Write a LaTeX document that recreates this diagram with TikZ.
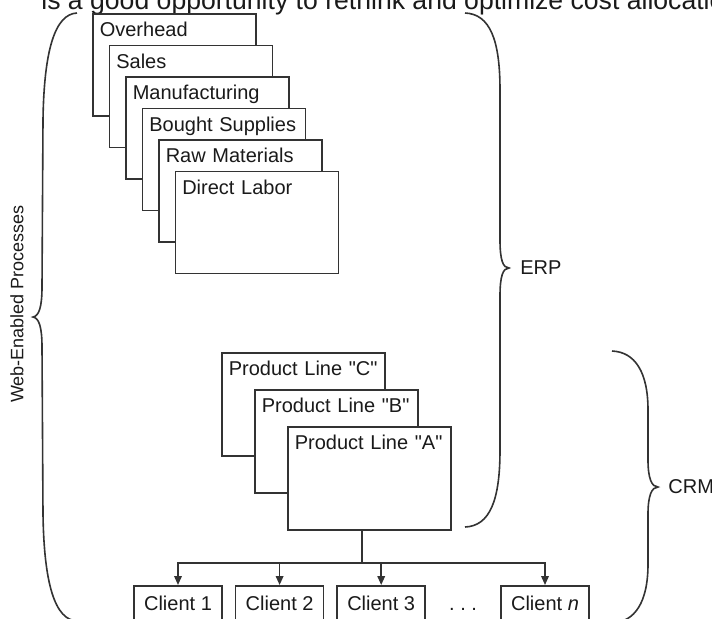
\documentclass[tikz,border=0pt]{standalone}
\usepackage{fontspec}
\setmainfont{Liberation Sans}
\usetikzlibrary{positioning, arrows.meta}
\definecolor{inkline}{HTML}{333333}
\definecolor{inktext}{HTML}{1A1A1A}

\begin{document}
\begin{tikzpicture}[
    x=0.5pt, y=-0.5pt,
    >={Triangle[length=4.5pt, width=3.8pt]},
    sheet/.style={draw=inkline, fill=white, line width=0.8pt, anchor=north west,
        align=left, text width=74.5pt, inner xsep=3.5pt, inner ysep=4pt,
        text height=7.5pt, text depth=35.5pt, text=inktext},
    client/.style={draw=inkline, fill=white, line width=0.8pt, anchor=north,
        minimum width=44pt, inner ysep=5pt, text height=7.5pt, text depth=6pt, text=inktext},
    wire/.style={draw=inkline, line width=0.8pt},
    brace/.style={draw=inkline, line width=0.8pt},
    tag/.style={text=inktext, inner sep=0pt},
]
\useasboundingbox (0,0) rectangle (712,618);
\clip (0,0) rectangle (712,618);

% === CAPTION (cut by the page edge) ===
\node[tag, anchor=base west, font=\fontsize{13.3}{15}\selectfont] (caption) at (41,9)
    {is a good opportunity to rethink and optimize cost allocation};

% === ERP STACK ===
\node[sheet] (overhead) at (92,13) {Overhead};
\node[sheet] (sales) at ([xshift=8.25pt, yshift=-15.75pt]overhead.north west) {Sales};
\node[sheet] (manuf) at ([xshift=8.25pt, yshift=-15.75pt]sales.north west) {Manufacturing};
\node[sheet] (bought) at ([xshift=8.25pt, yshift=-15.75pt]manuf.north west) {Bought Supplies};
\node[sheet] (raw) at ([xshift=8.25pt, yshift=-15.75pt]bought.north west) {Raw Materials};
\node[sheet] (labor) at ([xshift=8.25pt, yshift=-15.75pt]raw.north west) {Direct Labor};

% === PRODUCT LINES ===
\node[sheet, text depth=36pt] (prodC) at (221,352) {Product Line \textquotedbl C\textquotedbl};
\node[sheet, text depth=36pt] (prodB) at ([xshift=16.5pt, yshift=-18.5pt]prodC.north west) {Product Line \textquotedbl B\textquotedbl};
\node[sheet, text depth=36pt] (prodA) at ([xshift=16.5pt, yshift=-18.5pt]prodB.north west) {Product Line \textquotedbl A\textquotedbl};

% === CLIENTS ===
\node[client] (client1) at (178,585) {Client 1};
\node[client, right=6pt of client1] (client2) {Client 2};
\node[client, right=6pt of client2] (client3) {Client 3};
\node[client] (clientn) at (545,585) {Client \textit{n}};
\path (client3.base) -- (clientn.base) node[tag, midway, anchor=base] (dots) {.\ .\ .};

\coordinate (stem) at ([xshift=-3.6pt]prodA.south);
\coordinate (bus) at ([yshift=-16.2pt]stem);
\draw[wire] (stem) -- (bus);
\draw[wire, ->] (bus) -| (client1);
\draw[wire, ->] (bus) -| (client2);
\draw[wire, ->] (bus) -| (client3);
\draw[wire, ->] (bus) -| (clientn);

% === BRACES ===
\draw[brace] (77,13) .. controls (55,14) and (44,50) .. (43,120) -- (42,287)
    .. controls (42,307) and (39,316) .. (33,317) .. controls (39,318) and (42,327) .. (42,347)
    -- (43,514) .. controls (44,584) and (55,620) .. (77,621);
\node[tag, rotate=90, font=\fontsize{9}{11}\selectfont] (webproc) at (17,304) {Web-Enabled Processes};

\draw[brace] (465,13) .. controls (490,14) and (500,40) .. (500,90) -- (500,240)
    .. controls (500,260) and (503,268) .. (509,268) .. controls (503,268) and (500,276) .. (500,296)
    -- (500,450) .. controls (500,500) and (490,526) .. (465,527);
\node[tag, anchor=west] (erp) at (520,268) {ERP};

\draw[brace] (612,351) .. controls (635,352) and (648,372) .. (648,410) -- (648,460)
    .. controls (648,479) and (652,487) .. (658,487) .. controls (652,487) and (648,495) .. (648,514)
    -- (648,564) .. controls (648,602) and (635,622) .. (612,623);
\node[tag, anchor=west] (crm) at (668,487) {CRM};

\end{tikzpicture}
\end{document}
